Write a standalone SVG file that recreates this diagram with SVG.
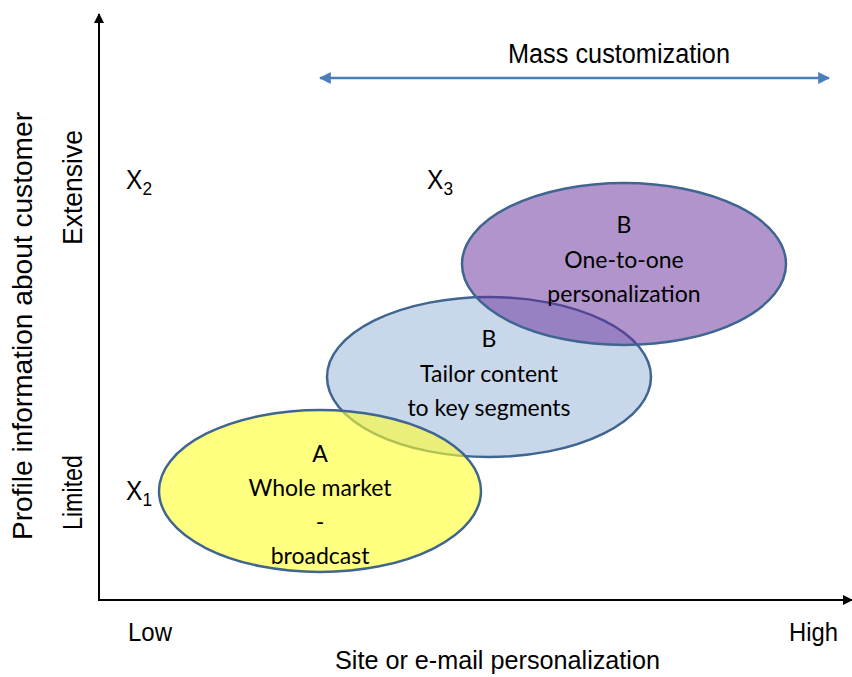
<svg xmlns="http://www.w3.org/2000/svg" width="852" height="677" viewBox="0 0 852 677">
  <style>
    .ax { font-family: "Liberation Sans", Arial, sans-serif; fill: #000; }
    .lbl { font-family: Lato, "Open Sans", sans-serif; font-size: 23px; fill: #000; text-anchor: middle; }
    .ell { stroke: #3f6590; stroke-width: 2.5; }
  </style>
  <defs>
    <marker id="ahBlack" viewBox="0 0 10 10" refX="9" refY="5" markerWidth="10" markerHeight="10" markerUnits="userSpaceOnUse" orient="auto">
      <path d="M0,0 L10,5 L0,10 z" fill="#000"/>
    </marker>
    <marker id="ahBlue" viewBox="0 0 10 10" refX="9" refY="5" markerWidth="12" markerHeight="12" markerUnits="userSpaceOnUse" orient="auto-start-reverse">
      <path d="M0,0 L10,5 L0,10 z" fill="#4a7ebb"/>
    </marker>
  </defs>

  <rect width="852" height="677" fill="#fff"/>

  <!-- axes and range arrow -->
  <g id="connectors">
    <line x1="99" y1="600" x2="99" y2="14" stroke="#000" stroke-width="2" marker-end="url(#ahBlack)"/>
    <line x1="98" y1="600" x2="852" y2="600" stroke="#000" stroke-width="2" marker-end="url(#ahBlack)"/>
    <line x1="320" y1="78" x2="829" y2="78" stroke="#4a7ebb" stroke-width="2.5" marker-start="url(#ahBlue)" marker-end="url(#ahBlue)"/>
  </g>

  <!-- strategy ellipses -->
  <g id="nodeB1">
    <ellipse class="ell" cx="489" cy="377" rx="162" ry="80" fill="#c8d8ea"/>
    <text class="lbl" x="489" y="347">B</text>
    <text class="lbl" x="489" y="382">Tailor content</text>
    <text class="lbl" x="489" y="416">to key segments</text>
  </g>
  <g id="nodeA">
    <ellipse class="ell" cx="320" cy="491" rx="161" ry="81" fill="#ffff2b" fill-opacity="0.6"/>
    <text class="lbl" x="320" y="462">A</text>
    <text class="lbl" x="320" y="496">Whole market</text>
    <text class="lbl" x="320" y="530">-</text>
    <text class="lbl" x="320" y="564">broadcast</text>
  </g>
  <g id="nodeB2">
    <ellipse class="ell" cx="624" cy="264" rx="162" ry="81" fill="#652999" fill-opacity="0.5"/>
    <text class="lbl" x="624" y="233">B</text>
    <text class="lbl" x="624" y="268">One-to-one</text>
    <text class="lbl" x="624" y="302">personalization</text>
  </g>

  <!-- positions -->
  <g id="x2"><text class="ax" x="126" y="189" font-size="27" textLength="26" lengthAdjust="spacingAndGlyphs">X<tspan font-size="19" dy="6">2</tspan></text></g>
  <g id="x3"><text class="ax" x="427" y="189" font-size="27" textLength="26" lengthAdjust="spacingAndGlyphs">X<tspan font-size="19" dy="6">3</tspan></text></g>
  <g id="x1"><text class="ax" x="126" y="500" font-size="27" textLength="26" lengthAdjust="spacingAndGlyphs">X<tspan font-size="19" dy="6">1</tspan></text></g>

  <!-- axis captions -->
  <g id="labels">
    <text class="ax" x="508" y="63" font-size="27" textLength="222" lengthAdjust="spacingAndGlyphs">Mass customization</text>
    <text class="ax" x="128" y="641" font-size="26" textLength="44" lengthAdjust="spacingAndGlyphs">Low</text>
    <text class="ax" x="789" y="641" font-size="26" textLength="49" lengthAdjust="spacingAndGlyphs">High</text>
    <text class="ax" x="335" y="669" font-size="26" textLength="325" lengthAdjust="spacingAndGlyphs">Site or e-mail personalization</text>
    <text class="ax" transform="translate(32,540) rotate(-90)" font-size="27" textLength="428" lengthAdjust="spacingAndGlyphs">Profile information about customer</text>
    <text class="ax" transform="translate(82,245) rotate(-90)" font-size="27" textLength="115" lengthAdjust="spacingAndGlyphs">Extensive</text>
    <text class="ax" transform="translate(82,530) rotate(-90)" font-size="27" textLength="75" lengthAdjust="spacingAndGlyphs">Limited</text>
  </g>
</svg>
